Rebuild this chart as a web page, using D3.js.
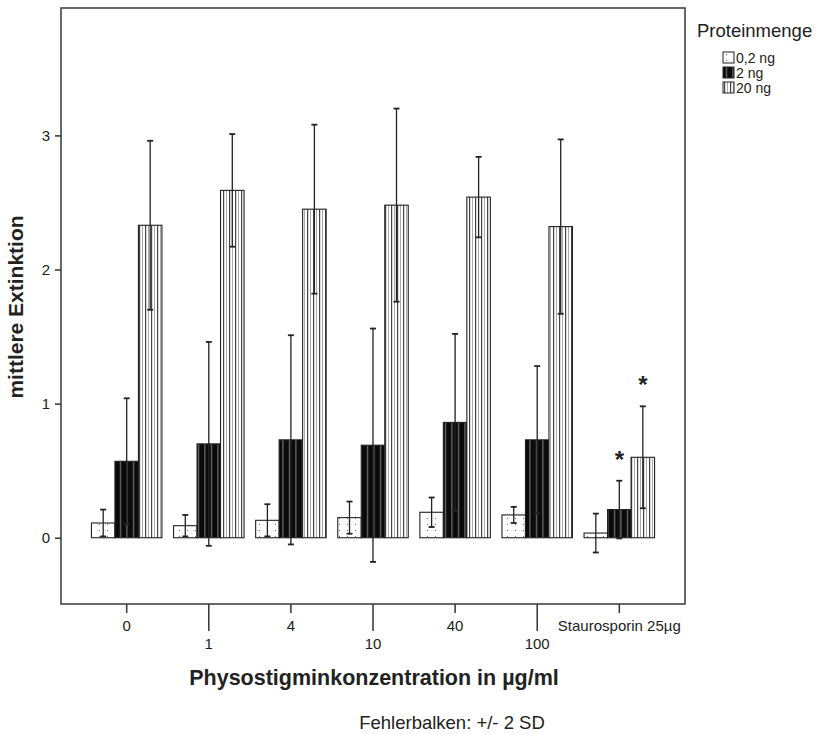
<!DOCTYPE html>
<html>
<head>
<meta charset="utf-8">
<script src="https://cdn.jsdelivr.net/npm/d3@7"></script>
<style>
  body { margin: 0; background: #fff; }
  text { font-family: "Liberation Sans", Arial, sans-serif; fill: #222; }
</style>
</head>
<body>
<script>
const w = 821;
const h = 734;

// data
const categories = ["0", "1", "4", "10", "40", "100", "Staurosporin 25µg"];
const series = ["0,2 ng", "2 ng", "20 ng"];
const means02 = [0.11, 0.09, 0.13, 0.15, 0.19, 0.17, 0.035];
const err02 = [0.10, 0.08, 0.12, 0.12, 0.11, 0.06, 0.145];
const means2 = [0.57, 0.70, 0.73, 0.69, 0.86, 0.73, 0.21];
const err2 = [0.47, 0.76, 0.78, 0.87, 0.66, 0.55, 0.215];
const means20 = [2.33, 2.59, 2.45, 2.48, 2.54, 2.32, 0.60];
const err20 = [0.63, 0.42, 0.63, 0.72, 0.30, 0.65, 0.38];
const yTicks = [0, 1, 2, 3];
const significant = [{ cat: "Staurosporin 25µg", s: 1 }, { cat: "Staurosporin 25µg", s: 2 }];

const means = [means02, means2, means20];
const errs = [err02, err2, err20];

const plotL = 61, plotR = 685, plotT = 8, plotB = 604;

let svg = d3.select("body").append("svg")
    .attr("width", w)
    .attr("height", h);

// patterns for the three bar fills
const defs = svg.append("defs");
let p0 = defs.append("pattern").attr("id", "pat0").attr("patternUnits", "userSpaceOnUse")
    .attr("width", 8).attr("height", 6);
p0.append("rect").attr("width", 8).attr("height", 6).attr("fill", "#fff");
p0.append("rect").attr("x", 3).attr("y", 2).attr("width", 1).attr("height", 1).attr("fill", "#777");

let p1 = defs.append("pattern").attr("id", "pat1").attr("patternUnits", "userSpaceOnUse")
    .attr("width", 6.5).attr("height", 4);
p1.append("rect").attr("width", 6.5).attr("height", 4).attr("fill", "#0a0a0a");
p1.append("rect").attr("x", 3).attr("width", 1).attr("height", 4).attr("fill", "#888");

let p2 = defs.append("pattern").attr("id", "pat2").attr("patternUnits", "userSpaceOnUse")
    .attr("width", 6).attr("height", 4);
p2.append("rect").attr("width", 6).attr("height", 4).attr("fill", "#fff");
p2.append("rect").attr("x", 1).attr("width", 1.2).attr("height", 4).attr("fill", "#444");
p2.append("rect").attr("x", 4).attr("width", 1).attr("height", 4).attr("fill", "#aaa");

const fills = ["url(#pat0)", "url(#pat1)", "url(#pat2)"];

var x = d3.scalePoint()
    .domain(categories)
    .range([plotL, plotR])
    .padding(0.8);

var y = d3.scaleLinear()
    .domain([-0.494, 3.95])
    .range([plotB, plotT]);

const bw = 23.5;
const off = d3.scaleLinear().domain([0, 2]).range([-1.5 * bw, 0.5 * bw]);

// bars
let rows = [];
series.forEach(function (s, si) {
    categories.forEach(function (c, ci) {
        rows.push({ s: si, c: c, m: means[si][ci], e: errs[si][ci] });
    });
});

svg.append("g").selectAll("rect")
    .data(rows)
    .enter().append("rect")
    .attr("x", d => x(d.c) + off(d.s))
    .attr("y", d => y(d.m))
    .attr("width", bw)
    .attr("height", d => y(0) - y(d.m))
    .attr("fill", d => fills[d.s])
    .attr("stroke", "#222")
    .attr("stroke-width", 1.1);

// error bars
let eb = svg.append("g").attr("stroke", "#222").attr("stroke-width", 1.3);
rows.forEach(function (d) {
    const cx = x(d.c) + off(d.s) + bw / 2;
    eb.append("line").attr("x1", cx).attr("x2", cx)
        .attr("y1", y(d.m + d.e)).attr("y2", y(d.m - d.e));
    [d.m + d.e, d.m - d.e].forEach(function (v) {
        eb.append("line").attr("x1", cx - 3).attr("x2", cx + 3)
            .attr("y1", y(v)).attr("y2", y(v)).attr("stroke-width", 1.8);
    });
});

// asterisks
svg.append("g").selectAll("text")
    .data(significant)
    .enter().append("text")
    .attr("x", d => x(d.cat) + off(d.s) + bw / 2)
    .attr("y", d => {
        const ci = categories.indexOf(d.cat);
        return y(means[d.s][ci] + errs[d.s][ci]) - 13;
    })
    .attr("text-anchor", "middle")
    .style("font-size", "24px")
    .style("font-weight", "bold")
    .text("*");

// frame
svg.append("rect")
    .attr("x", plotL).attr("y", plotT)
    .attr("width", plotR - plotL).attr("height", plotB - plotT)
    .attr("fill", "none").attr("stroke", "#444").attr("stroke-width", 1.6);

// y axis
let yAxis = svg.append("g")
    .attr("transform", "translate(" + plotL + ",0)")
    .call(d3.axisLeft(y).tickValues(yTicks).tickFormat(d3.format("d")).tickSize(6).tickPadding(5));
yAxis.select(".domain").remove();
yAxis.selectAll("line").attr("stroke", "#333").attr("stroke-width", 1.5);
yAxis.selectAll("text").style("font-size", "15px").style("font-family", "Liberation Sans, Arial, sans-serif").attr("fill", "#222");

// x axis, labels alternating in two rows
let xAxis = svg.append("g")
    .attr("transform", "translate(0," + plotB + ")")
    .call(d3.axisBottom(x).tickSize(0).tickFormat(""));
xAxis.select(".domain").remove();
let xt = svg.append("g");
categories.forEach(function (c, i) {
    const low = i % 2 === 1;
    xt.append("line")
        .attr("x1", x(c)).attr("x2", x(c))
        .attr("y1", plotB).attr("y2", plotB + (low ? 27 : 9))
        .attr("stroke", "#333").attr("stroke-width", 1.5);
    xt.append("text")
        .attr("x", x(c))
        .attr("y", plotB + (low ? 45 : 27))
        .attr("text-anchor", "middle")
        .style("font-size", "15px")
        .text(c);
});

// axis titles
svg.append("text")
    .attr("transform", "translate(23,307) rotate(-90)")
    .attr("text-anchor", "middle")
    .style("font-size", "21px")
    .style("font-weight", "bold")
    .text("mittlere Extinktion");

svg.append("text")
    .attr("x", 374).attr("y", 685)
    .attr("text-anchor", "middle")
    .style("font-size", "21.5px")
    .style("font-weight", "bold")
    .text("Physostigminkonzentration in µg/ml");

svg.append("text")
    .attr("x", 452).attr("y", 729)
    .attr("text-anchor", "middle")
    .style("font-size", "18.5px")
    .text("Fehlerbalken: +/- 2 SD");

// legend
svg.append("text")
    .attr("x", 697).attr("y", 37)
    .style("font-size", "18.5px")
    .text("Proteinmenge");
let lg = svg.append("g").selectAll("g")
    .data(series)
    .enter().append("g")
    .attr("transform", (d, i) => "translate(723," + (52 + i * 15) + ")");
lg.append("rect")
    .attr("width", 11).attr("height", 11)
    .attr("fill", (d, i) => fills[i])
    .attr("stroke", "#222").attr("stroke-width", 1);
lg.append("text")
    .attr("x", 13).attr("y", 10.5)
    .style("font-size", "14px")
    .text(d => d);
</script>
</body>
</html>
